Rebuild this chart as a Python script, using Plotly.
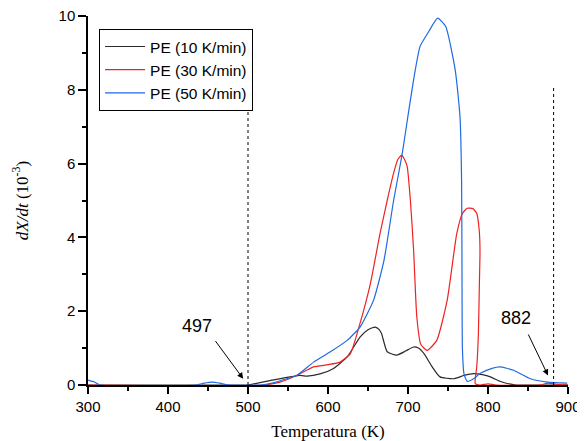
import plotly.graph_objects as go

# PE heating rates, dX/dt in 1e-3 units vs temperature (K)
t10 = [300, 497, 500, 530, 565, 574, 590, 607, 624, 640, 650, 659, 664, 667, 674, 686, 697, 707, 713,
       720, 730, 740, 757, 770, 782, 793, 803, 815, 824, 835, 900]
y10 = [0, 0, 0, 0.13, 0.26, 0.24, 0.3, 0.45, 0.76, 1.3, 1.5, 1.57, 1.5, 1.39, 0.9, 0.81, 0.92, 1.03, 1.0,
       0.85, 0.5, 0.22, 0.17, 0.26, 0.31, 0.28, 0.22, 0.1, 0.04, 0.0, 0.0]

t30 = [300, 520, 540, 560, 582, 600, 615, 628, 640, 653, 665, 674, 682, 687, 692, 696, 699, 703, 707,
       711, 716, 724, 736, 749, 761, 768, 774, 781, 786, 789, 790, 789, 788, 786, 784, 790, 800, 810,
       865, 875, 885, 900]
y30 = [0, 0, 0.08, 0.25, 0.49, 0.55, 0.62, 0.85, 1.67, 2.75, 4.1, 5.0, 5.74, 6.1, 6.23, 6.1, 5.92, 5.0, 3.66,
       1.85, 1.1, 0.94, 1.21, 2.3, 4.11, 4.65, 4.79, 4.78, 4.65, 4.2, 3.66, 2.5, 1.4, 0.5, 0.04, 0.0, 0.03, 0.0,
       0.0, 0.05, 0.02, 0.0]

t50 = [300, 308, 315, 435, 445, 455, 465, 475, 515, 530, 545, 561, 582, 603, 624, 640, 657, 670, 682,
       692.5, 700, 707, 715, 726, 737, 747, 759, 765, 767, 767.5, 768, 770, 774, 782, 790, 805, 815, 832,
       853, 874, 899]
y50 = [0.13, 0.08, 0.0, 0.0, 0.05, 0.08, 0.05, 0.0, 0.0, 0.05, 0.15, 0.26, 0.62, 0.9, 1.21, 1.57, 2.3, 3.38, 5.0,
       6.23, 7.3, 8.27, 9.17, 9.58, 9.94, 9.72, 8.54, 7.27, 5.5, 3.0, 1.0, 0.3, 0.1, 0.17, 0.31, 0.45, 0.49, 0.4,
       0.17, 0.08, 0.05]

series = [("PE (10 K/min)", t10, y10, "#2b2b2b"),
          ("PE (30 K/min)", t30, y30, "#ee2222"),
          ("PE (50 K/min)", t50, y50, "#1f6ae0")]

limits = [500, 882]
labels = [("497", 436, 1.6, 458, 1.23, 494, 0.17),
          ("882", 835, 1.82, 849.5, 1.41, 875, 0.26)]

fig = go.Figure()
for name, t, y, c in series:
    fig.add_trace(go.Scatter(x=t, y=y, name=name, mode="lines",
                             line=dict(color=c, width=1.2, shape="spline", smoothing=0.5)))

for xv in limits:
    fig.add_shape(type="line", x0=xv, x1=xv, y0=0, y1=8.1, xref="x", yref="y",
                  line=dict(color="black", width=1, dash="dot"))

for txt, tx, ty, ax, ay, hx, hy in labels:
    fig.add_annotation(x=tx, y=ty, text=txt, showarrow=False,
                       font=dict(family="Liberation Sans, Arial", size=18, color="black"))
    fig.add_annotation(x=hx, y=hy, ax=ax, ay=ay, axref="x", ayref="y", text="",
                       showarrow=True, arrowhead=2, arrowsize=1.2, arrowwidth=1, arrowcolor="black")

axis_common = dict(showline=True, linecolor="black", linewidth=1.5, mirror=False, automargin=False,
                   ticks="outside", tickcolor="black", tickwidth=1.5, showgrid=False, zeroline=False,
                   ticklabeloverflow="allow",
                   tickfont=dict(family="Liberation Sans, Arial", size=15, color="black"))

fig.update_xaxes(range=[300, 900], dtick=100, ticklen=7,
                 minor=dict(dtick=50, ticks="outside", ticklen=4, tickcolor="black", tickwidth=1.5),
                 title=dict(text="Temperatura (K)", standoff=12,
                            font=dict(family="Liberation Serif, Times New Roman", size=17, color="black")),
                 **axis_common)
fig.update_yaxes(range=[0, 10], dtick=2, ticklen=8,
                 minor=dict(dtick=1, ticks="outside", ticklen=4, tickcolor="black", tickwidth=1.5),
                 title=dict(text="<i>dX/dt</i> (10<sup>-3</sup>)", standoff=26,
                            font=dict(family="Liberation Serif, Times New Roman", size=17, color="black")),
                 **axis_common)

# page body has an 8px margin, so the figure is offset by 8px
fig.update_layout(width=577, height=433, plot_bgcolor="white", paper_bgcolor="white",
                  margin=dict(l=80, r=17, t=8, b=56),
                  legend=dict(x=0.023, y=0.965, xanchor="left", yanchor="top",
                              bgcolor="white", bordercolor="black", borderwidth=1,
                              font=dict(family="Liberation Sans, Arial", size=15.5, color="black"),
                              tracegroupgap=0, itemwidth=40))

fig.write_html("out.html")
